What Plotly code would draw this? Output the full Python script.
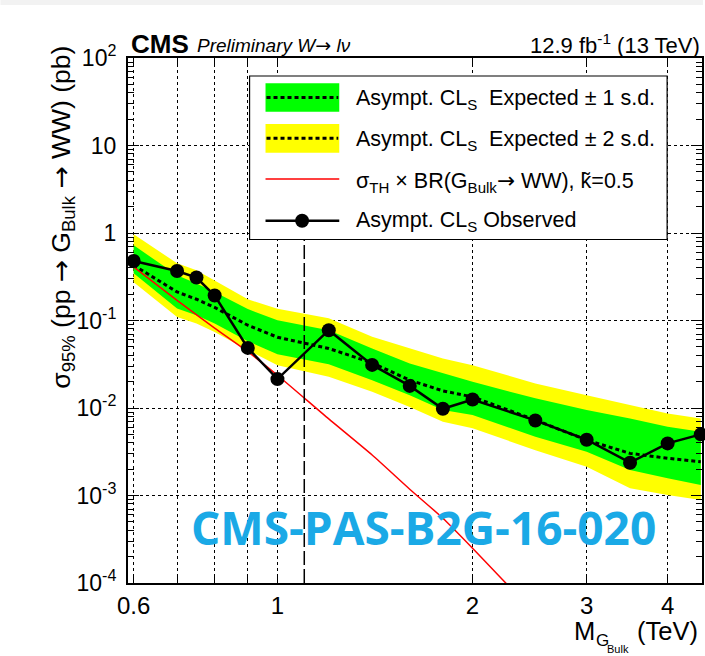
import plotly.graph_objects as go

# ---------------- data ----------------
mass = [0.6, 0.7, 0.75, 0.8, 0.9, 1.0, 1.2, 1.4, 1.6, 1.8, 2.0, 2.5, 3.0, 3.5, 4.0, 4.5]
observed = [0.479, 0.368, 0.310, 0.193, 0.0486, 0.0214, 0.0775, 0.0311, 0.0179, 0.0098,
            0.0125, 0.00721, 0.00434, 0.00237, 0.00394, 0.0050]
expected = [0.428, 0.212, 0.175, 0.141, 0.0883, 0.0644, 0.0479, 0.0328, 0.0208, 0.0157,
            0.0134, 0.00728, 0.0043, 0.00303, 0.00266, 0.00243]
exp_p1 = [0.724, 0.329, 0.264, 0.212, 0.135, 0.1007, 0.0775, 0.0479, 0.0323, 0.0248,
          0.0199, 0.0129, 0.00946, 0.0076, 0.0061, 0.00535]
exp_m1 = [0.347, 0.137, 0.115, 0.0924, 0.058, 0.0412, 0.0317, 0.0208, 0.0140, 0.00946,
          0.0083, 0.00469, 0.00316, 0.00195, 0.00157, 0.00132]
exp_p2 = [0.966, 0.451, 0.375, 0.288, 0.175, 0.136, 0.106, 0.065, 0.0483, 0.0368,
          0.0309, 0.0191, 0.0140, 0.0108, 0.00867, 0.0076]
exp_m2 = [0.274, 0.110, 0.0924, 0.0741, 0.0458, 0.0309, 0.0227, 0.0153, 0.0103, 0.00695,
          0.00585, 0.00330, 0.00213, 0.00121, 0.00101, 0.00089]

theory_mass = [0.6, 0.7, 0.8, 0.9, 1.0, 1.2, 1.4, 1.6, 1.8, 2.0, 2.5]
theory_xs = [0.41, 0.17, 0.082, 0.044, 0.0237, 0.0075, 0.0029, 0.00118, 0.00055, 0.00025, 0.000044]

cut_mass = [1.1, 1.1]
cut_y = [1e-4, 1.0]

x_tickvals = [0.6, 0.7, 0.8, 0.9, 1, 2, 3, 4]
x_ticktext = ["0.6", "", "", "", "1", "2", "3", "4"]
y_tickvals = [1e-4, 1e-3, 1e-2, 1e-1, 1, 10, 100]
y_ticktext = ["10<sup>-4</sup>", "10<sup>-3</sup>", "10<sup>-2</sup>", "10<sup>-1</sup>",
              "1", "10", "10<sup>2</sup>"]
y_minor = [m * 10.0 ** e for e in range(-4, 2) for m in range(2, 10)]

ARROW = '<span style="font-family:DejaVu Sans">→</span>'
legend_labels = [
    "Asympt. CL<sub>S</sub>\u00a0\u00a0Expected ± 1 s.d.",
    "Asympt. CL<sub>S</sub>\u00a0\u00a0Expected ± 2 s.d.",
    "σ<sub>TH</sub> × BR(G<sub>Bulk</sub>" + ARROW + " WW), k\u0303=0.5",
    "Asympt. CL<sub>S</sub> Observed",
]

# ---------------- layout geometry ----------------
L, R, T, B = 128, 1, 58, 73
W, H = 705, 656
PW, PH = W - L - R, H - T - B


def px(x):
    return (x - L) / PW


def py(y):
    return (H - B - y) / PH


FONT = "Liberation Sans, Arial, sans-serif"
GREEN = "#00ff00"
YELLOW = "#ffff00"

fig = go.Figure()

# bands
fig.add_trace(go.Scatter(x=mass + mass[::-1], y=exp_p2 + exp_m2[::-1], fill="toself",
                         fillcolor=YELLOW, line=dict(width=0), mode="lines",
                         hoverinfo="skip", showlegend=False))
fig.add_trace(go.Scatter(x=mass + mass[::-1], y=exp_p1 + exp_m1[::-1], fill="toself",
                         fillcolor=GREEN, line=dict(width=0), mode="lines",
                         hoverinfo="skip", showlegend=False))
fig.add_trace(go.Scatter(x=mass, y=expected, mode="lines",
                         line=dict(color="black", width=3, dash="4px,3px"),
                         showlegend=False))
fig.add_trace(go.Scatter(x=theory_mass, y=theory_xs, mode="lines",
                         line=dict(color="#ff0000", width=1.5, shape="spline", smoothing=0.6),
                         showlegend=False))
fig.add_trace(go.Scatter(x=cut_mass, y=cut_y, mode="lines",
                         line=dict(color="black", width=1.5, dash="14px,4px"),
                         showlegend=False))
fig.add_trace(go.Scatter(x=mass, y=observed, mode="lines+markers",
                         line=dict(color="black", width=2.5),
                         marker=dict(color="black", size=14),
                         cliponaxis=False, showlegend=False))

# ---------------- manual legend ----------------
shapes = []
shapes.append(dict(type="rect", xref="paper", yref="paper",
                   x0=px(250), x1=px(669), y0=py(239.5), y1=py(76),
                   fillcolor="white", line=dict(color="black", width=1.2), layer="above"))
for (top, bot, col) in [(83.3, 111.7, GREEN), (124, 152.7, YELLOW)]:
    shapes.append(dict(type="rect", xref="paper", yref="paper",
                       x0=px(266), x1=px(340), y0=py(bot), y1=py(top),
                       fillcolor=col, line=dict(width=0), layer="above"))
    yc = py((top + bot) / 2)
    shapes.append(dict(type="line", xref="paper", yref="paper",
                       x0=px(267), x1=px(339), y0=yc, y1=yc,
                       line=dict(color="black", width=3, dash="4px,3px"), layer="above"))
shapes.append(dict(type="line", xref="paper", yref="paper",
                   x0=px(266), x1=px(340), y0=py(179), y1=py(179),
                   line=dict(color="#ff0000", width=1.5), layer="above"))
shapes.append(dict(type="line", xref="paper", yref="paper",
                   x0=px(266), x1=px(340), y0=py(220.7), y1=py(220.7),
                   line=dict(color="black", width=2.5), layer="above"))
shapes.append(dict(type="circle", xref="paper", yref="paper",
                   x0=px(302.7 - 7), x1=px(302.7 + 7), y0=py(220.7 + 7), y1=py(220.7 - 7),
                   fillcolor="black", line=dict(color="black", width=0), layer="above"))
# faint top strip of the source image
shapes.append(dict(type="rect", xref="paper", yref="paper",
                   x0=px(0), x1=px(705), y0=py(5), y1=py(0),
                   fillcolor="#f2f2f2", line=dict(width=0), layer="above"))

annotations = []
for lab, yc in zip(legend_labels, [100, 140, 181.7, 221.7]):
    annotations.append(dict(text=lab, xref="paper", yref="paper", x=px(355), y=py(yc),
                            xanchor="left", yanchor="middle", showarrow=False,
                            font=dict(family=FONT, size=21.5, color="black")))

# header texts
annotations.append(dict(text="<b>CMS</b>", xref="paper", yref="paper", x=px(129), y=py(44),
                        xanchor="left", yanchor="middle", showarrow=False,
                        font=dict(family=FONT, size=26, color="black")))
annotations.append(dict(text="<i>Preliminary W" + ARROW + " lν</i>", xref="paper", yref="paper",
                        x=px(195), y=py(45), xanchor="left", yanchor="middle", showarrow=False,
                        font=dict(family=FONT, size=19, color="black")))
annotations.append(dict(text="12.9 fb<sup>-1</sup> (13 TeV)", xref="paper", yref="paper",
                        x=px(704), y=py(44), xanchor="right", yanchor="middle", showarrow=False,
                        font=dict(family=FONT, size=22, color="black")))

# y-axis title
annotations.append(dict(text="σ<sub>95%</sub> (pp " + ARROW + " G<sub>Bulk</sub> " + ARROW + " WW) (pb)",
                        xref="paper", yref="paper", x=px(62), y=py(44),
                        xanchor="center", yanchor="top", textangle=-90, showarrow=False,
                        font=dict(family=FONT, size=26.5, color="black")))
# x-axis title
annotations.append(dict(text="(TeV)", xref="paper", yref="paper", x=px(702), y=py(631),
                        xanchor="right", yanchor="middle", showarrow=False,
                        font=dict(family=FONT, size=25.5, color="black")))
annotations.append(dict(text="M", xref="paper", yref="paper", x=px(574), y=py(631),
                        xanchor="left", yanchor="middle", showarrow=False,
                        font=dict(family=FONT, size=25.5, color="black")))
annotations.append(dict(text="G", xref="paper", yref="paper", x=px(596), y=py(640),
                        xanchor="left", yanchor="middle", showarrow=False,
                        font=dict(family=FONT, size=17, color="black")))
annotations.append(dict(text="Bulk", xref="paper", yref="paper", x=px(607), y=py(649),
                        xanchor="left", yanchor="middle", showarrow=False,
                        font=dict(family=FONT, size=11, color="black")))

# watermark
annotations.append(dict(text="<b>CMS-PAS-B2G-16-020</b>", xref="paper", yref="paper",
                        x=px(425), y=py(527), xanchor="center", yanchor="middle",
                        showarrow=False,
                        font=dict(family="Open Sans, sans-serif", size=46, color="#1aa9e6")))

fig.update_layout(
    width=W, height=H,
    margin=dict(l=L, r=R, t=T, b=B, pad=0),
    paper_bgcolor="white", plot_bgcolor="white",
    showlegend=False,
    shapes=shapes, annotations=annotations,
    font=dict(family=FONT, color="black"),
)

fig.update_xaxes(
    type="log", range=[-0.2306, 0.6551],
    tickmode="array", tickvals=x_tickvals, ticktext=x_ticktext,
    ticks="inside", ticklen=8, tickwidth=1, tickcolor="black",
    showgrid=True, gridcolor="black", gridwidth=1, griddash="dot",
    showline=True, linecolor="black", linewidth=2, mirror="allticks",
    zeroline=False, tickfont=dict(family=FONT, size=24, color="black"),
    ticklabelstandoff=0,
)
fig.update_yaxes(
    type="log", range=[-4, 2],
    tickmode="array", tickvals=y_tickvals, ticktext=y_ticktext,
    ticks="inside", ticklen=11, tickwidth=1, tickcolor="black",
    minor=dict(tickmode="array", tickvals=y_minor, ticks="inside", ticklen=6,
               tickcolor="black", showgrid=False),
    showgrid=True, gridcolor="black", gridwidth=1, griddash="dot",
    showline=True, linecolor="black", linewidth=2, mirror="allticks",
    zeroline=False, tickfont=dict(family=FONT, size=23, color="black"),
    ticklabelstandoff=5,
)

fig.write_html("out.html")
